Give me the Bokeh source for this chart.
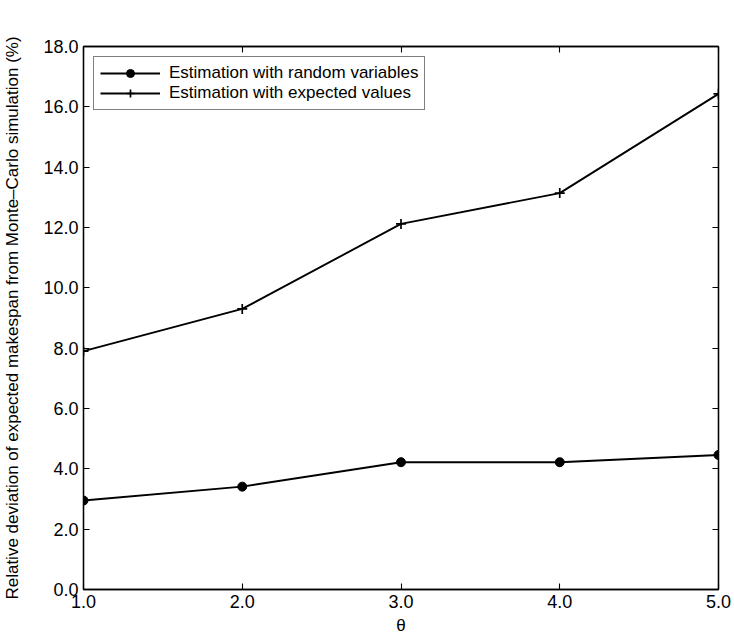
from bokeh.plotting import figure
from bokeh.models import LinearAxis, NumeralTickFormatter, CustomJSTickFormatter, FixedTicker, Range1d, Legend, LegendItem
from bokeh.embed import file_html
from bokeh.resources import INLINE

theta = [1.0, 2.0, 3.0, 4.0, 5.0]
random_vars = [2.95, 3.41, 4.22, 4.22, 4.46]
expected_vals = [7.90, 9.30, 12.12, 13.14, 16.43]
x_ticks = [1.0, 2.0, 3.0, 4.0, 5.0]
y_ticks = [0, 2, 4, 6, 8, 10, 12, 14, 16, 18]

FONT = "Liberation Sans"

p = figure(width=734, height=637, output_backend="svg", toolbar_location=None,
           x_range=Range1d(1, 5), y_range=Range1d(0, 18),
           min_border_left=82, min_border_right=16, min_border_top=46, min_border_bottom=48)
p.xgrid.visible = False
p.ygrid.visible = False
p.outline_line_color = "black"
p.outline_line_width = 1.3

def style_axis(ax, ticks, show_labels):
    ax.ticker = FixedTicker(ticks=ticks)
    ax.minor_tick_line_color = None
    ax.major_tick_in = 6
    ax.major_tick_out = 0
    ax.axis_line_color = "black"
    ax.axis_line_width = 1.3
    ax.major_tick_line_color = "black"
    ax.major_tick_line_width = 1.1
    ax.major_label_text_font = FONT
    ax.major_label_text_font_size = "18px"
    ax.major_label_text_color = "black"
    ax.axis_label_text_font = FONT
    ax.axis_label_text_font_style = "normal"
    ax.axis_label_text_color = "black"
    if show_labels:
        ax.formatter = NumeralTickFormatter(format="0.0")
    else:
        ax.formatter = CustomJSTickFormatter(code="return '';")
        ax.major_label_standoff = 0

style_axis(p.xaxis[0], x_ticks, True)
style_axis(p.yaxis[0], y_ticks, True)
p.xaxis[0].axis_label = "θ"
p.xaxis[0].axis_label_text_font_size = "17px"
p.xaxis[0].axis_label_standoff = 5
p.xaxis[0].major_label_standoff = 5
p.yaxis[0].axis_label = "Relative deviation of expected makespan from Monte\u2013Carlo simulation (%)"
p.yaxis[0].axis_label_text_font_size = "17px"
p.yaxis[0].axis_label_standoff = 18
p.yaxis[0].major_label_standoff = 5

ax_r = LinearAxis()
style_axis(ax_r, y_ticks, False)
p.add_layout(ax_r, "right")
ax_t = LinearAxis()
style_axis(ax_t, x_ticks, False)
p.add_layout(ax_t, "above")

l1 = p.line(theta, random_vars, line_color="black", line_width=1.9)
m1 = p.scatter(theta, random_vars, marker="circle", size=9, fill_color="black", line_color="black")
l2 = p.line(theta, expected_vals, line_color="black", line_width=1.9)
m2 = p.scatter(theta, expected_vals, marker="cross", size=10, line_color="black", line_width=1.7)

legend = Legend(items=[
    LegendItem(label="Estimation with random variables", renderers=[l1, m1]),
    LegendItem(label="Estimation with expected values", renderers=[l2, m2]),
], location="top_left")
legend.label_text_font = FONT
legend.label_text_font_size = "17px"
legend.label_text_color = "black"
legend.border_line_color = "black"
legend.border_line_width = 1.2
legend.margin = 10
legend.padding = 6
legend.spacing = 0
legend.glyph_width = 60
legend.glyph_height = 20
legend.label_height = 20
legend.label_standoff = 9
legend.background_fill_alpha = 1.0
p.add_layout(legend)

open("out.html", "w").write(file_html(p, INLINE))
